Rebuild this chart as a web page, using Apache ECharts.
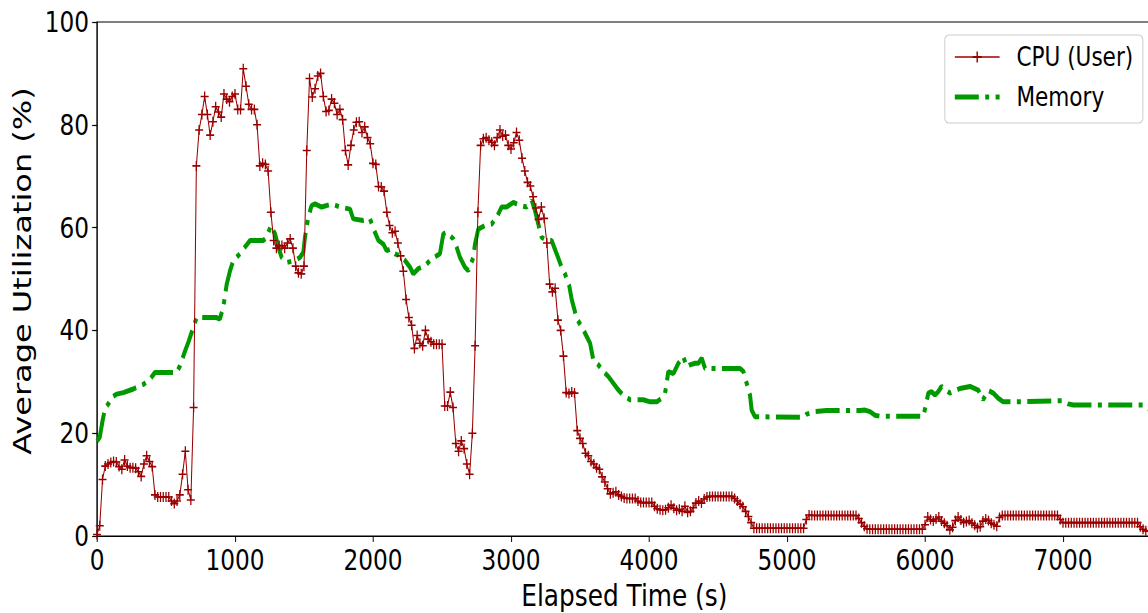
<!DOCTYPE html>
<html>
<head>
<meta charset="utf-8">
<script src="https://cdn.jsdelivr.net/npm/echarts@6/dist/echarts.min.js"></script>
<style>
html,body{margin:0;padding:0;background:#fff;overflow:hidden;width:1148px;height:613px;}
#c{width:1435px;height:613px;transform:scaleX(0.8);transform-origin:0 0;}
</style>
</head>
<body>
<div id="c"></div>
<script>
// CPU (User) samples, one every CPU_STEP seconds starting at 0 s
const CPU_STEP = 20;
const cpuUser = [
  0.3, 2, 11, 13.6, 14, 14.3, 14.5, 14.4, 13.5, 13,
  14.8, 13.6, 13.3, 13.3, 13.2, 12.5, 11.6, 14, 15.6, 14.5,
  13.5, 8, 7.6, 7.6, 7.6, 7.6, 7.6, 6.8, 6.3, 6.8,
  8, 12, 16.5, 9, 7, 25, 72, 79, 82, 85.5,
  82, 78, 80.6, 83.5, 82.5, 81.5, 86, 85, 84.5, 85.5,
  86, 83, 83, 90.9, 87.5, 84, 83, 83, 80, 72,
  72.5, 72.3, 71, 63, 57.5, 56, 56.5, 56.5, 56, 57,
  57.8, 56, 52.5, 51.2, 51, 52.5, 75, 89, 85.4, 87,
  89.5, 90, 85.5, 82.6, 82.8, 85, 84.2, 82, 83, 81,
  75, 72.2, 76, 79, 80.5, 80.6, 78.5, 79.6, 77.5, 76.3,
  72.5, 72.3, 68, 67.9, 67.1, 63, 60.4, 59, 59.3, 57,
  54.5, 51.5, 46, 42.5, 41, 36.5, 39, 37.5, 37, 40,
  38.3, 37.8, 37.3, 37.3, 37.3, 37.3, 25.3, 25.3, 28, 25,
  18, 16.5, 18.5, 17, 14, 12, 20, 37, 63, 76,
  77.3, 77.5, 77, 76.6, 76, 77.5, 79, 77.8, 78, 76,
  75.3, 76.5, 78.5, 77, 73.5, 71, 68.8, 68.1, 66, 63.8,
  61.6, 64, 61.8, 57, 49, 47.5, 48.2, 42, 40, 35,
  27.9, 27.7, 28, 27.8, 20.5, 19, 18, 16.1, 15.6, 14.5,
  14, 13.3, 13, 11.5, 10.5, 9.2, 8.2, 8.4, 8.6, 8,
  7.7, 7.4, 7.3, 7.3, 7.3, 7.3, 6.8, 6.5, 6.5, 6.5,
  6.5, 6.5, 5.8, 5.3, 5.1, 5.0, 5.1, 5.5, 6, 5.4,
  5.0, 5.2, 4.8, 5.8, 4.6, 4.8, 5.5, 6.4, 6.8, 6.4,
  7.2, 7.6, 7.7, 7.7, 7.7, 7.7, 7.7, 7.7, 7.7, 7.7,
  7.7, 7.3, 6.8, 6.2, 5.7, 4.8, 3.8, 2.6, 1.5, 1.5,
  1.5, 1.5, 1.5, 1.5, 1.5, 1.5, 1.5, 1.5, 1.5, 1.5,
  1.5, 1.5, 1.5, 1.5, 1.5, 1.5, 1.5, 3.2, 4.1, 4.0,
  4.0, 4.0, 4.0, 4.0, 4.0, 4.0, 4.0, 4.0, 4.0, 4.0,
  4.0, 4.0, 4.0, 4.0, 4.0, 4.0, 3.4, 2.6, 1.9, 1.4,
  1.3, 1.3, 1.3, 1.3, 1.3, 1.3, 1.3, 1.3, 1.3, 1.3,
  1.3, 1.3, 1.3, 1.3, 1.3, 1.3, 1.3, 1.3, 1.3, 1.3,
  2.2, 3.7, 3.2, 2.9, 3.3, 3.7, 2.9, 2.5, 2.0, 1.2,
  1.7, 3.0, 3.7, 3.1, 2.6, 2.8, 3.0, 2.5, 2.1, 1.6,
  1.8, 2.9, 3.3, 3.0, 2.5, 2.2, 1.9, 3.6, 4.0, 4.0,
  4.0, 4.0, 4.0, 4.0, 4.0, 4.0, 4.0, 4.0, 4.0, 4.0,
  4.0, 4.0, 4.0, 4.0, 4.0, 4.0, 4.0, 4.0, 4.0, 3.2,
  2.6, 2.6, 2.6, 2.6, 2.6, 2.6, 2.6, 2.6, 2.6, 2.6,
  2.6, 2.6, 2.6, 2.6, 2.6, 2.6, 2.6, 2.6, 2.6, 2.6,
  2.6, 2.6, 2.6, 2.6, 2.6, 2.6, 2.6, 2.6, 1.8, 1.3,
  1.0, 1.0
];

// Memory: [elapsed seconds, %]
const memory = [
  [0,18.5],[20,19.2],[40,22.4],[60,25],[80,25.6],[106,27],[142,27.6],[191,27.9],[263,28.6],
  [336,29.5],[384,30.5],[420,31.8],[577,31.8],[601,33.1],[638,36],[662,37.7],[698,40.6],
  [722,42.5],[867,42.5],[890,42.2],[915,44.5],[928,46.8],[940,49],[964,51.6],[988,53.6],
  [1036,54.9],[1072,56.2],[1109,57.5],[1205,57.5],[1229,58.1],[1260,60.4],[1290,58.8],
  [1314,56.2],[1338,54.2],[1374,53.2],[1435,53.6],[1471,54.2],[1495,55.2],[1507,58.1],
  [1531,62],[1555,64.3],[1580,64.6],[1628,64],[1700,64.6],[1761,64],[1833,63.6],[1857,61.7],
  [1930,61.4],[1978,61.7],[2014,59.1],[2039,57.5],[2075,56.8],[2099,55.5],[2123,55.8],
  [2159,54.9],[2195,54.5],[2232,53.6],[2268,52.3],[2292,51],[2328,52],[2377,52.6],
  [2425,53.9],[2485,54.9],[2497,56.8],[2510,58.8],[2534,59.1],[2582,57.8],[2606,56.2],
  [2630,54.2],[2666,52.3],[2691,51.6],[2727,54.2],[2739,56.8],[2763,59.7],[2811,60.4],
  [2860,60.7],[2896,62],[2932,64],[2968,64],[3017,64.9],[3065,64.3],[3113,64],[3150,65.3],
  [3174,63.3],[3198,60.7],[3222,58.1],[3258,57.5],[3294,57.5],[3331,54.9],[3367,52.3],
  [3391,51],[3422,48.7],[3440,46],[3460,44],[3476,42.3],[3513,40.7],[3549,38.8],[3573,37.5],
  [3597,34.2],[3633,33.3],[3670,32],[3706,31],[3742,29.7],[3778,28.4],[3814,27.4],
  [3863,26.5],[3959,26.5],[4008,26.1],[4056,26.1],[4092,26.8],[4116,27.8],[4128,29.7],
  [4140,32],[4177,31.6],[4213,33.6],[4249,34.9],[4273,32.9],[4297,33.3],[4334,33.6],
  [4358,33.6],[4382,34.6],[4406,32.6],[4660,32.6],[4684,32],[4708,29.7],[4732,27.4],
  [4744,24.5],[4768,23.2],[5118,23.1],[5142,23.7],[5202,24.2],[5287,24.4],[5530,24.4],
  [5565,24.5],[5601,24.2],[5637,23.5],[5673,23.3],[5987,23.3],[6007,25.5],[6024,27.8],
  [6048,28.1],[6072,27.4],[6096,28.1],[6120,29.1],[6181,27.8],[6253,28.7],[6326,29.1],
  [6386,28.4],[6420,26.5],[6459,28.3],[6495,27.8],[6531,26.8],[6567,26.1],[6664,26.1],
  [6954,26.3],[7000,26.3],[7038,25.7],[7075,25.5],[7582,25.5],[7606,24.8],[7640,24.6]
];

const xTicks = [0, 1000, 2000, 3000, 4000, 5000, 6000, 7000];
const yTicks = [0, 20, 40, 60, 80, 100];

const cpuData = cpuUser.map((v, i) => [i * CPU_STEP, v]);

const FONT = 'DejaVu Sans';
const MEM_DASH = [30, 8, 5, 8];
const chart = echarts.init(document.getElementById('c'), null, {renderer: 'svg'});
chart.setOption({
  animation: false,
  backgroundColor: '#fff',
  grid: {left: 121.25, top: 22, width: 1328.25, height: 514, containLabel: false, outerBoundsMode: 'none',
    show: true, borderColor: '#000', borderWidth: 1.2, backgroundColor: 'transparent'},
  xAxis: {
    type: 'value', min: 0, max: 7700, interval: 1000,
    name: 'Elapsed Time (s)', nameLocation: 'middle', nameGap: 41,
    nameTextStyle: {fontFamily: FONT, fontSize: 31, lineHeight: 31, color: '#000', padding: [0, 10, 0, 0]},
    axisLine: {lineStyle: {color: '#000', width: 1.2}},
    axisTick: {length: 6, lineStyle: {color: '#000', width: 1.2}},
    axisLabel: {fontFamily: FONT, fontSize: 29, color: '#000', margin: 10,
      formatter: v => xTicks.indexOf(v) >= 0 ? String(v) : ''},
    splitLine: {show: false}
  },
  yAxis: {
    type: 'value', min: 0, max: 100, interval: 20,
    name: 'Average Utilization (%)', nameLocation: 'middle', nameGap: 78,
    nameTextStyle: {fontFamily: FONT, fontSize: 32, color: '#000', padding: [0, 0, 0, 16]},
    axisLine: {lineStyle: {color: '#000', width: 1.2}},
    axisTick: {length: 6, lineStyle: {color: '#000', width: 1.2}},
    axisLabel: {fontFamily: FONT, fontSize: 29, color: '#000', margin: 10,
      formatter: v => yTicks.indexOf(v) >= 0 ? String(v) : ''},
    splitLine: {show: false}
  },
  legend: {
    left: 1181, top: 35, orient: 'vertical',
    data: [
      {name: 'CPU (User)', lineStyle: {width: 1.3}},
      {name: 'Memory', itemStyle: {opacity: 0}, lineStyle: {width: 5, type: MEM_DASH, cap: 'butt'}}
    ],
    itemWidth: 56, itemHeight: 14, itemGap: 10,
    padding: [7, 12, 11, 10],
    borderColor: '#cccccc', borderWidth: 1.2, borderRadius: 5,
    backgroundColor: 'rgba(255,255,255,0.85)',
    textStyle: {fontFamily: FONT, fontSize: 27, color: '#000', lineHeight: 30, padding: [0, 0, 0, 16]}
  },
  series: [
    {
      name: 'CPU (User)', type: 'line', data: cpuData, z: 3,
      symbol: 'path://M0,4.2H10V5.8H0Z M4.2,0H5.8V10H4.2Z', symbolSize: 10,
      showAllSymbol: true,
      itemStyle: {color: '#9b0000'},
      lineStyle: {color: '#9b0000', width: 1.3}
    },
    {
      name: 'Memory', type: 'line', data: memory, z: 2,
      symbol: 'none', smooth: false,
      itemStyle: {color: '#009a00'},
      lineStyle: {color: '#009a00', width: 5, type: MEM_DASH, cap: 'butt'}
    }
  ]
});
</script>
</body>
</html>
